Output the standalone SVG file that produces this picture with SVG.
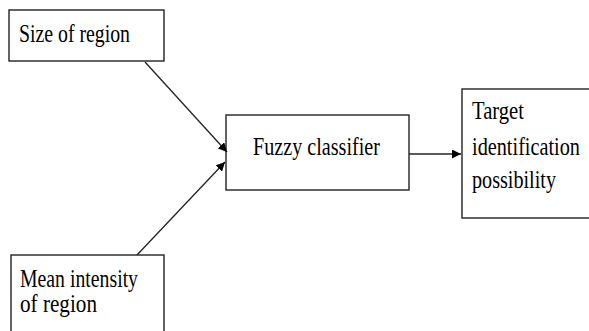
<svg xmlns="http://www.w3.org/2000/svg" width="589" height="331" viewBox="0 0 589 331">
<defs>
<style>
.box{fill:#fff;stroke:#222;stroke-width:1.4}
.t{font-family:"Liberation Serif","Times New Roman",serif;font-size:25px;fill:#000}
.c{stroke:#222;stroke-width:1.3;fill:none}
</style>
<marker id="ah" viewBox="0 0 10 10" refX="10" refY="5" markerWidth="9" markerHeight="9" markerUnits="userSpaceOnUse" orient="auto">
<path d="M0,0 L10,5 L0,10 z" fill="#000"/>
</marker>
</defs>
<rect width="589" height="331" fill="#fff"/>
<g id="size">
<rect class="box" x="9" y="10" width="155" height="51"/>
<text class="t" x="19" y="42" textLength="111" lengthAdjust="spacingAndGlyphs">Size of region</text>
</g>
<g id="mean">
<rect class="box" x="11" y="255" width="153" height="90"/>
<text class="t" x="20" y="287" textLength="118" lengthAdjust="spacingAndGlyphs">Mean intensity</text>
<text class="t" x="20" y="312" textLength="77" lengthAdjust="spacingAndGlyphs">of region</text>
</g>
<g id="fuzzy">
<rect class="box" x="226" y="115" width="183" height="75"/>
<text class="t" x="253" y="155" textLength="127" lengthAdjust="spacingAndGlyphs">Fuzzy classifier</text>
</g>
<g id="target">
<rect class="box" x="462" y="89" width="132" height="129"/>
<text class="t" x="472" y="119" textLength="52" lengthAdjust="spacingAndGlyphs">Target</text>
<text class="t" x="472" y="155" textLength="108" lengthAdjust="spacingAndGlyphs">identification</text>
<text class="t" x="472" y="188" textLength="84" lengthAdjust="spacingAndGlyphs">possibility</text>
</g>
<g id="connectors">
<line class="c" x1="145" y1="62" x2="227" y2="152" marker-end="url(#ah)"/>
<line class="c" x1="137" y1="255" x2="225" y2="162" marker-end="url(#ah)"/>
<line class="c" x1="409" y1="154" x2="461" y2="154" marker-end="url(#ah)"/>
</g>
</svg>
